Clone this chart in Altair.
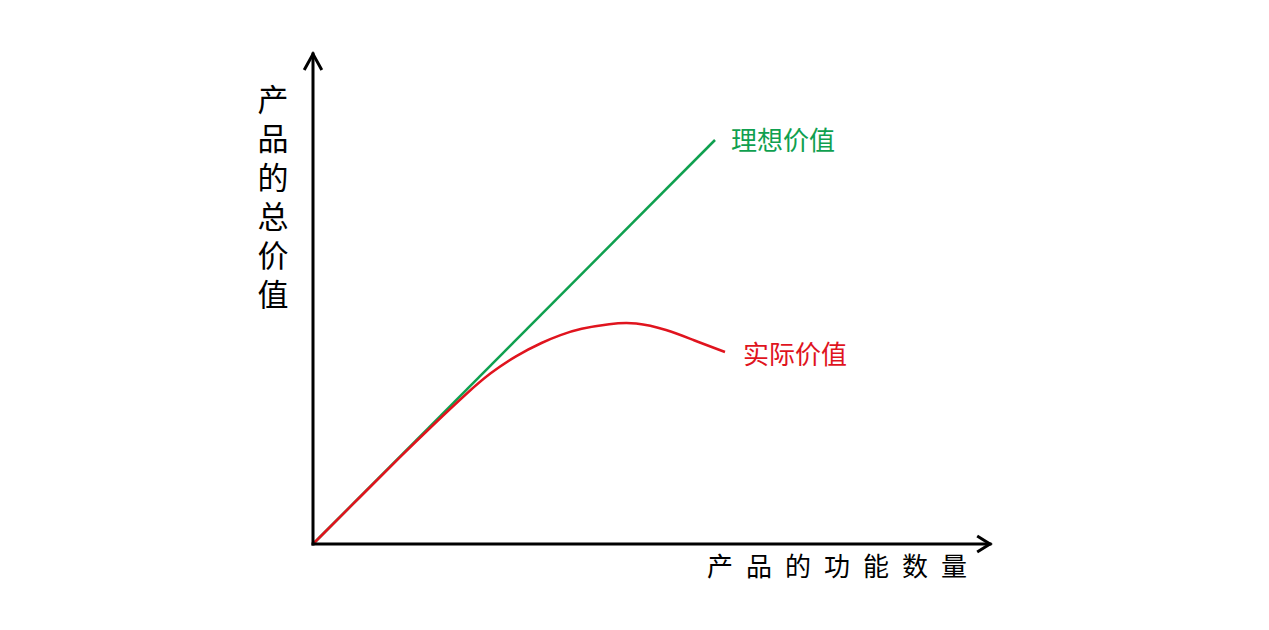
import altair as alt
import pandas as pd

# Ideal value (straight line)
ideal_x = [0.0, 10.05]
ideal_y = [0.0, 10.1]

actual_x = [0.0, 1.2, 2.175, 3.0, 3.85, 4.425, 5.1, 5.75, 6.175, 6.675, 7.425, 8.05, 8.85, 9.5, 10.3]
actual_y = [0.0, 1.2, 2.175, 2.975, 3.775, 4.275, 4.725, 5.05, 5.225, 5.385, 5.51, 5.55, 5.36, 5.1, 4.8]

# Axis arrows (data units)
axis_x = [0.0, 16.925]
axis_y = [0.0, 12.25]

labels = ["理想价值", "实际价值"]
label_x = [10.45, 10.75]
label_y = [10.05, 4.7]
label_colors = ["#0FA04F", "#E0141E"]

y_title = "产\n品\n的\n总\n价\n值"
x_title = "\u2002".join("产品的功能数量")

FONT = "Noto Sans CJK SC"

xs = alt.Scale(domain=[-7.625, 23.7], nice=False, zero=False)
ys = alt.Scale(domain=[-1.95, 13.4], nice=False, zero=False)

def X(f="x"):
    return alt.X(f"{f}:Q", scale=xs, axis=None)

def Y(f="y"):
    return alt.Y(f"{f}:Q", scale=ys, axis=None)

# axes lines
axes_df = pd.DataFrame({
    "x": [axis_x[0], axis_x[0]], "x2": [axis_x[1], axis_x[0]],
    "y": [axis_y[0], axis_y[0]], "y2": [axis_y[0], axis_y[1]],
})
axes = alt.Chart(axes_df).mark_rule(color="black", strokeWidth=3, strokeCap="square").encode(
    x=X(), x2="x2:Q", y=Y(), y2="y2:Q")

# arrowheads
tipx, tipy = axis_x[1], axis_y[1]
arrow_df = pd.DataFrame({
    "x": [tipx - 0.32, tipx, tipx - 0.32, -0.22, 0.0, 0.22],
    "y": [0.2, 0.0, -0.2, tipy - 0.4, tipy, tipy - 0.4],
    "g": ["a", "a", "a", "b", "b", "b"],
    "o": [0, 1, 2, 0, 1, 2],
})
arrows = alt.Chart(arrow_df).mark_line(color="black", strokeWidth=3, strokeJoin="miter").encode(
    x=X(), y=Y(), detail="g:N", order="o:Q")

ideal_df = pd.DataFrame({"x": ideal_x, "y": ideal_y})
ideal = alt.Chart(ideal_df).mark_line(color="#0FA04F", strokeWidth=2.5).encode(x=X(), y=Y())

actual_df = pd.DataFrame({"x": actual_x, "y": actual_y, "o": list(range(len(actual_x)))})
actual = alt.Chart(actual_df).mark_line(color="#E0141E", strokeWidth=2.5, interpolate="basis").encode(
    x=X(), y=Y(), order="o:Q")

lab_df = pd.DataFrame({"t": labels, "x": label_x, "y": label_y, "c": label_colors})
lab = alt.Chart(lab_df).mark_text(font=FONT, fontSize=26, align="left", baseline="middle").encode(
    x=X(), y=Y(), text="t:N", color=alt.Color("c:N", scale=None))

yt_df = pd.DataFrame({"t": [y_title], "x": [-1.0], "y": [11.04]})
yt = alt.Chart(yt_df).mark_text(font=FONT, fontSize=31, align="center", baseline="middle",
                                 lineBreak="\n", lineHeight=39, color="black").encode(
    x=X(), y=Y(), text="t:N")

xt_df = pd.DataFrame({"t": [x_title], "x": [13.1], "y": [-0.6]})
xt = alt.Chart(xt_df).mark_text(font=FONT, fontSize=26, align="center", baseline="middle",
                                 color="black").encode(x=X(), y=Y(), text="t:N")

chart = alt.layer(ideal, actual, axes, arrows, lab, yt, xt).properties(
    width=1253, height=614, padding=0, background="white",
    autosize=alt.AutoSizeParams(type="none"),
).configure_view(strokeWidth=0, stroke="transparent")

chart.save("out.html", embed_options={"renderer": "svg", "actions": False})
